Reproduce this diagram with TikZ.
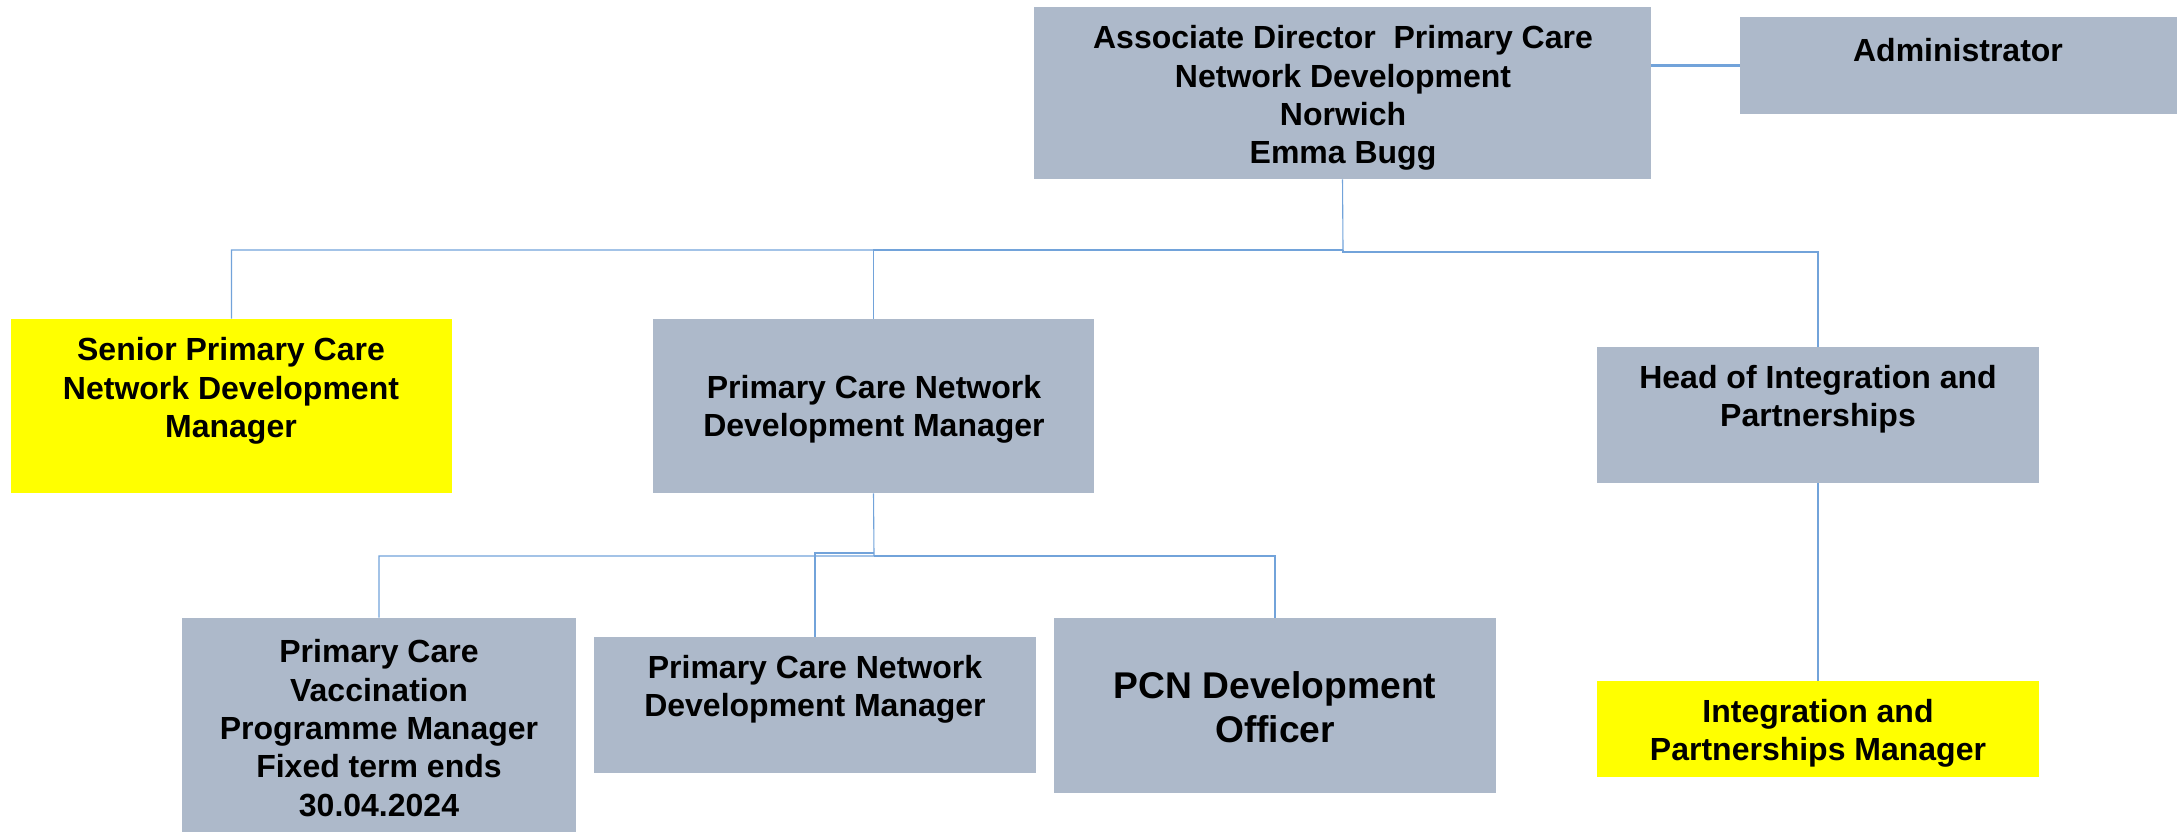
\documentclass[tikz,border=0pt]{standalone}
\usepackage{fontspec}
\setmainfont{Liberation Sans}
\usetikzlibrary{fit}
\definecolor{boxgrey}{HTML}{ADB9CA}
\definecolor{boxyellow}{HTML}{FFFF00}
\definecolor{connblue}{HTML}{72A3DA}
\tikzset{
  greybox/.style={draw=none, fill=boxgrey, inner sep=0pt, rectangle},
  yellowbox/.style={draw=none, fill=boxyellow, inner sep=0pt, rectangle},
  txt/.style={align=center, font=\bfseries\fontsize{16}{19.2}\selectfont, inner sep=0pt},
  bigtxt/.style={align=center, font=\bfseries\fontsize{18.6}{22}\selectfont, inner sep=0pt},
  conn/.style={draw=connblue, line width=0.55pt},
  thickconn/.style={draw=connblue, line width=1.3pt}
}
\begin{document}
\begin{tikzpicture}[x=0.5pt, y=-0.5pt]
\useasboundingbox (0,0) rectangle (2177,832);
% boxes
\node[greybox, fit={(1034,7) (1651,179)}] (dir) {};
\node[greybox, fit={(1740,17) (2177,114)}] (admin) {};
\node[yellowbox, fit={(11,319) (452,493)}] (senior) {};
\node[greybox, fit={(653,319) (1094,493)}] (pcn) {};
\node[greybox, fit={(1597,347) (2039,483)}] (head) {};
\node[greybox, fit={(182,618) (576,832)}] (vacc) {};
\node[greybox, fit={(594,637) (1036,773)}] (pcn2) {};
\node[greybox, fit={(1054,618) (1496,793)}] (off) {};
\node[yellowbox, fit={(1597,681) (2039,777)}] (integ) {};
% texts
\node[txt] (dirT) at (1343,98) {Associate Director\ \ Primary Care\\Network Development\\Norwich\\Emma Bugg};
\node[txt] (adminT) at (1958,50) {Administrator};
\node[txt] (seniorT) at (231,391) {Senior Primary Care\\Network Development\\Manager};
\node[txt] (pcnT) at (874,409) {Primary Care Network\\Development Manager};
\node[txt] (headT) at (1818,399) {Head of Integration and\\Partnerships};
\node[txt] (vaccT) at (379,728) {Primary Care\\Vaccination\\Programme Manager\\Fixed term ends\\30.04.2024};
\node[txt] (pcn2T) at (815,689) {Primary Care Network\\Development Manager};
\node[bigtxt] (offT) at (1275,707) {PCN Development\\Officer};
\node[txt] (integT) at (1818,733) {Integration and\\Partnerships Manager};
% junctions
\coordinate (j1) at (1343,250);
\coordinate (j1r) at (1343,252);
\coordinate (j2) at (874,556);
\coordinate (j3) at (874,553);
% connectors
\draw[thickconn] (admin.west) -- (admin.west -| dir.east);
\draw[conn] (dir.south) -- (j1) -| (senior.north);
\draw[conn] (j1) -| (pcn.north);
\draw[conn] (j1) -- (j1r) -| (head.north);
\draw[conn] (pcn.south) -- (j2) -| (vacc.north);
\draw[conn] (j2) -| (off.north);
\draw[conn] (j3) -| (pcn2.north);
\draw[conn] (head.south) -- (integ.north);
\end{tikzpicture}
\end{document}
